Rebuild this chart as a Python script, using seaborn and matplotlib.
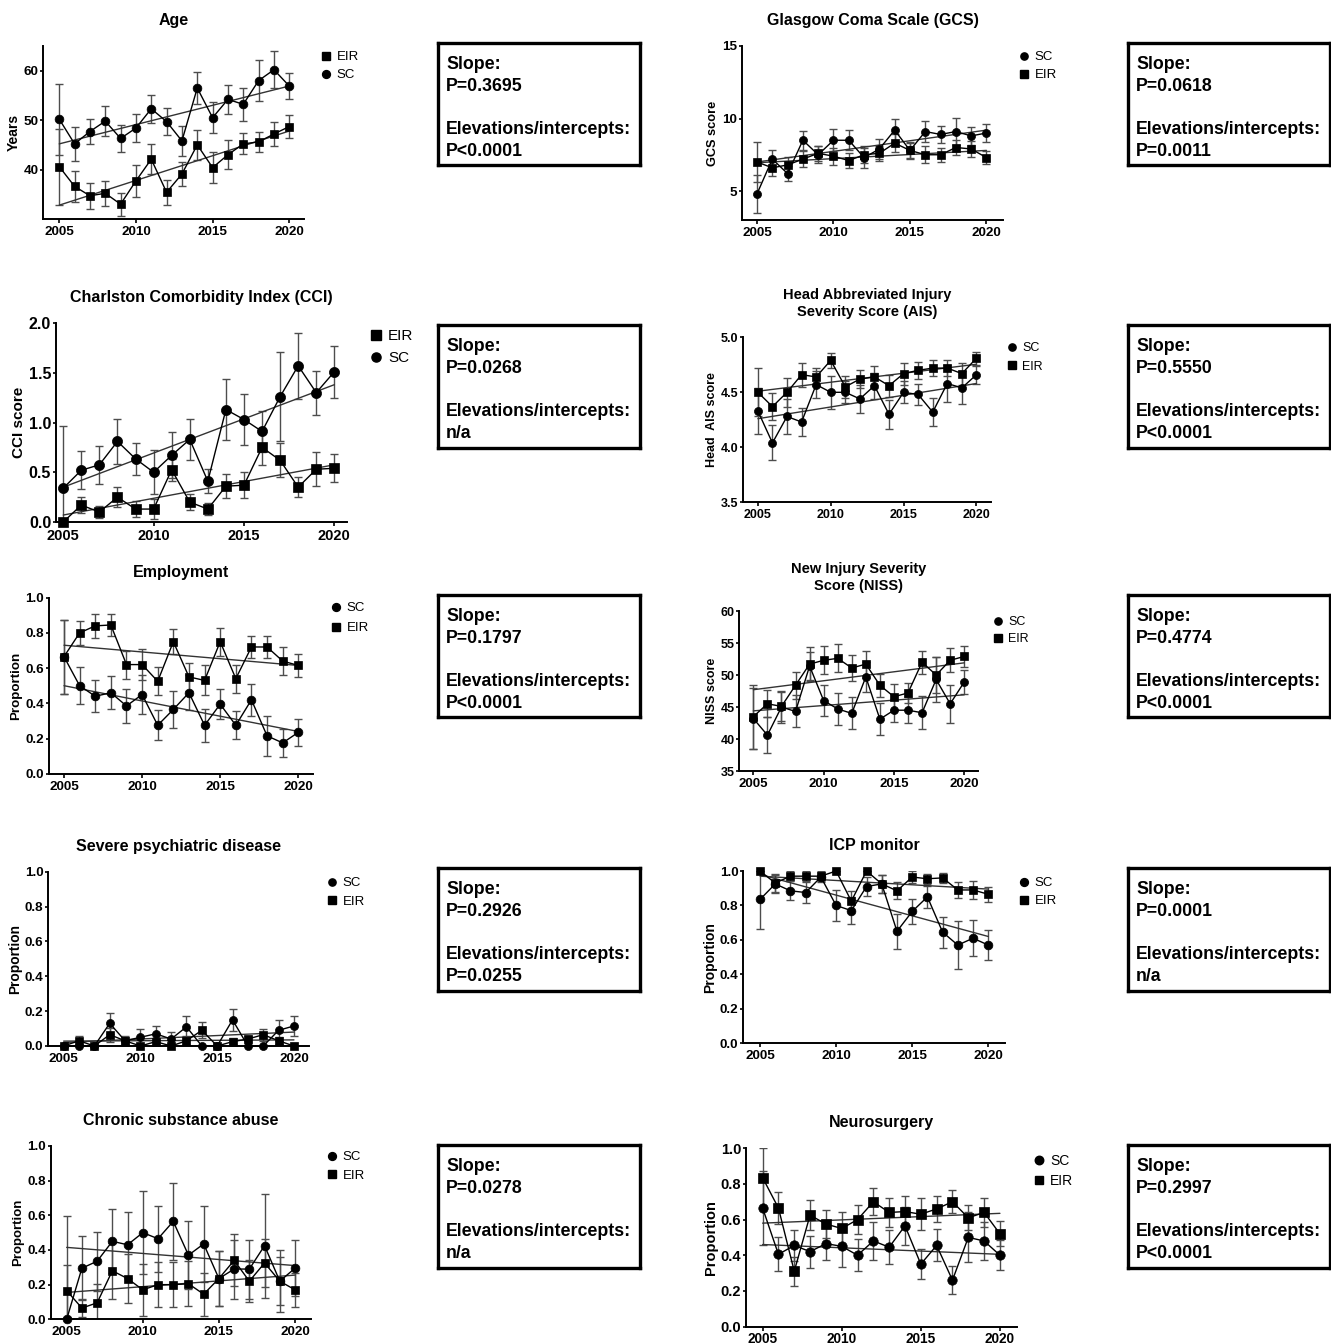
import pandas as pd
import matplotlib
matplotlib.use("Agg")
import matplotlib.pyplot as plt
import seaborn as sns
from matplotlib.lines import Line2D

years = list(range(2005, 2021))
fit_years = [2005, 2020]

# Age (years)
age_sc = [50.2, 45.2, 47.7, 49.8, 46.3, 48.4, 52.3, 49.7, 45.8, 56.5, 50.5, 54.2, 53.2, 58.0, 60.2, 56.9]
age_sc_err = [7.2, 3.5, 2.6, 3.0, 2.7, 2.8, 2.8, 2.7, 3.0, 3.3, 3.1, 2.9, 3.3, 4.1, 3.7, 2.7]
age_eir = [40.6, 36.6, 34.7, 35.2, 33.0, 37.7, 42.1, 35.4, 39.1, 45.0, 40.4, 43.0, 45.2, 45.6, 47.2, 48.7]
age_eir_err = [7.7, 3.2, 2.6, 2.5, 2.3, 3.3, 3.0, 2.5, 2.4, 3.0, 3.1, 2.9, 2.1, 2.0, 2.5, 2.3]
age_sc_fit = [45.2, 56.9]
age_eir_fit = [32.8, 47.8]

# Glasgow Coma Scale
gcs_sc = [4.8, 7.2, 6.2, 8.5, 7.5, 8.5, 8.5, 7.3, 7.9, 9.2, 7.8, 9.1, 8.9, 9.1, 8.8, 9.0]
gcs_sc_err = [1.3, 0.65, 0.5, 0.65, 0.6, 0.75, 0.7, 0.7, 0.7, 0.8, 0.6, 0.7, 0.6, 0.95, 0.6, 0.65]
gcs_eir = [7.0, 6.6, 6.8, 7.2, 7.6, 7.4, 7.1, 7.5, 7.6, 8.3, 7.8, 7.5, 7.5, 8.0, 7.9, 7.3]
gcs_eir_err = [1.4, 0.55, 0.55, 0.55, 0.5, 0.6, 0.5, 0.6, 0.5, 0.6, 0.5, 0.6, 0.5, 0.5, 0.55, 0.45]
gcs_sc_fit = [7.0, 9.2]
gcs_eir_fit = [6.95, 7.8]

# Charlston Comorbidity Index
cci_sc = [0.34, 0.52, 0.575, 0.81, 0.635, 0.50, 0.67, 0.83, 0.41, 1.13, 1.03, 0.91, 1.26, 1.57, 1.30, 1.51]
cci_sc_err = [0.62, 0.19, 0.19, 0.23, 0.16, 0.22, 0.23, 0.21, 0.12, 0.31, 0.26, 0.21, 0.45, 0.33, 0.22, 0.26]
cci_eir = [0.0, 0.17, 0.10, 0.25, 0.13, 0.13, 0.525, 0.20, 0.13, 0.36, 0.37, 0.75, 0.62, 0.35, 0.53, 0.54]
cci_eir_err = [0.0, 0.08, 0.06, 0.10, 0.08, 0.10, 0.11, 0.08, 0.06, 0.12, 0.13, 0.18, 0.17, 0.10, 0.17, 0.14]
cci_sc_fit = [0.35, 1.38]
cci_eir_fit = [0.07, 0.575]

# Head AIS
ais_sc = [4.33, 4.04, 4.28, 4.23, 4.57, 4.50, 4.50, 4.44, 4.56, 4.30, 4.50, 4.48, 4.32, 4.58, 4.54, 4.66]
ais_sc_err = [0.21, 0.16, 0.16, 0.13, 0.12, 0.15, 0.10, 0.13, 0.12, 0.13, 0.10, 0.10, 0.13, 0.17, 0.15, 0.08]
ais_eir = [4.50, 4.37, 4.50, 4.66, 4.64, 4.79, 4.55, 4.62, 4.64, 4.56, 4.67, 4.70, 4.72, 4.72, 4.67, 4.81]
ais_eir_err = [0.22, 0.12, 0.13, 0.11, 0.08, 0.07, 0.10, 0.08, 0.10, 0.10, 0.10, 0.08, 0.07, 0.07, 0.10, 0.06]
ais_sc_fit = [4.26, 4.58]
ais_eir_fit = [4.51, 4.755]

# Employment
emp_sc = [0.665, 0.50, 0.44, 0.46, 0.385, 0.45, 0.275, 0.365, 0.46, 0.275, 0.395, 0.275, 0.42, 0.215, 0.175, 0.235]
emp_sc_err = [0.21, 0.105, 0.09, 0.095, 0.095, 0.11, 0.085, 0.105, 0.10, 0.095, 0.085, 0.08, 0.09, 0.115, 0.08, 0.075]
emp_eir = [0.665, 0.80, 0.84, 0.845, 0.62, 0.62, 0.525, 0.75, 0.55, 0.53, 0.75, 0.54, 0.72, 0.72, 0.64, 0.615]
emp_eir_err = [0.21, 0.07, 0.07, 0.065, 0.08, 0.09, 0.08, 0.07, 0.08, 0.085, 0.08, 0.08, 0.065, 0.065, 0.08, 0.065]
emp_sc_fit = [0.50, 0.24]
emp_eir_fit = [0.73, 0.615]

# NISS
niss_sc = [43.2, 40.6, 45.0, 44.3, 51.4, 46.0, 44.7, 44.0, 49.7, 43.1, 44.5, 44.5, 44.1, 49.3, 45.5, 48.9]
niss_sc_err = [4.8, 2.8, 2.5, 2.5, 2.2, 2.4, 2.5, 2.5, 2.3, 2.5, 1.8, 2.0, 2.6, 3.5, 3.0, 1.9]
niss_eir = [43.5, 45.5, 45.1, 48.4, 51.7, 52.3, 52.6, 51.1, 51.7, 48.4, 46.6, 47.2, 52.0, 50.0, 52.3, 52.9]
niss_eir_err = [5.0, 2.1, 2.3, 2.1, 2.6, 2.2, 2.2, 2.0, 2.1, 1.8, 2.0, 1.6, 1.8, 2.8, 1.9, 1.6]
niss_sc_fit = [44.4, 46.9]
niss_eir_fit = [47.7, 51.9]

# Severe psychiatric disease
psy_sc = [0.0, 0.0, 0.0, 0.13, 0.03, 0.05, 0.07, 0.04, 0.11, 0.0, 0.0, 0.15, 0.0, 0.0, 0.09, 0.115]
psy_sc_err = [0.0, 0.0, 0.0, 0.06, 0.03, 0.05, 0.045, 0.04, 0.06, 0.0, 0.0, 0.065, 0.0, 0.0, 0.06, 0.055]
psy_eir = [0.0, 0.03, 0.0, 0.065, 0.03, 0.0, 0.025, 0.0, 0.03, 0.09, 0.0, 0.025, 0.04, 0.065, 0.03, 0.0]
psy_eir_err = [0.0, 0.03, 0.0, 0.04, 0.02, 0.0, 0.02, 0.0, 0.025, 0.045, 0.0, 0.02, 0.02, 0.035, 0.02, 0.0]
psy_sc_fit = [0.02, 0.08]
psy_eir_fit = [0.028, 0.035]

# ICP monitor
icp_sc = [0.835, 0.925, 0.885, 0.875, 0.965, 0.80, 0.77, 0.91, 0.925, 0.65, 0.765, 0.85, 0.645, 0.57, 0.61, 0.57]
icp_sc_err = [0.17, 0.05, 0.055, 0.06, 0.03, 0.09, 0.08, 0.055, 0.05, 0.10, 0.07, 0.065, 0.09, 0.14, 0.105, 0.085]
icp_eir = [1.0, 0.93, 0.97, 0.97, 0.97, 1.0, 0.825, 1.0, 0.925, 0.885, 0.965, 0.955, 0.96, 0.89, 0.89, 0.865]
icp_eir_err = [0.0, 0.05, 0.03, 0.03, 0.03, 0.0, 0.06, 0.0, 0.05, 0.05, 0.035, 0.03, 0.03, 0.045, 0.05, 0.045]
icp_sc_fit = [0.98, 0.62]
icp_eir_fit = [0.97, 0.895]

# Chronic substance abuse
sub_sc = [0.0, 0.295, 0.335, 0.45, 0.43, 0.50, 0.465, 0.565, 0.37, 0.435, 0.235, 0.29, 0.29, 0.425, 0.22, 0.295]
sub_sc_err = [0.595, 0.185, 0.17, 0.185, 0.19, 0.24, 0.19, 0.22, 0.195, 0.22, 0.16, 0.17, 0.17, 0.30, 0.18, 0.16]
sub_eir = [0.165, 0.065, 0.095, 0.28, 0.235, 0.17, 0.20, 0.20, 0.205, 0.145, 0.235, 0.34, 0.22, 0.325, 0.22, 0.17]
sub_eir_err = [0.15, 0.05, 0.11, 0.16, 0.14, 0.15, 0.13, 0.13, 0.13, 0.125, 0.16, 0.15, 0.12, 0.14, 0.14, 0.10]
sub_sc_fit = [0.415, 0.31]
sub_eir_fit = [0.155, 0.255]

# Neurosurgery
neu_sc = [0.665, 0.405, 0.455, 0.42, 0.465, 0.45, 0.40, 0.48, 0.445, 0.565, 0.35, 0.455, 0.26, 0.50, 0.48, 0.40]
neu_sc_err = [0.21, 0.095, 0.085, 0.09, 0.09, 0.115, 0.09, 0.105, 0.095, 0.105, 0.085, 0.09, 0.08, 0.14, 0.105, 0.085]
neu_eir = [0.835, 0.665, 0.31, 0.625, 0.575, 0.55, 0.60, 0.70, 0.64, 0.645, 0.63, 0.66, 0.70, 0.61, 0.64, 0.52]
neu_eir_err = [0.165, 0.09, 0.08, 0.085, 0.08, 0.095, 0.08, 0.075, 0.08, 0.085, 0.09, 0.075, 0.065, 0.07, 0.08, 0.07]
neu_sc_fit = [0.46, 0.405]
neu_eir_fit = [0.58, 0.635]

# p-values shown in the boxes
slope_p = ["P=0.3695", "P=0.0618", "P=0.0268", "P=0.5550", "P=0.1797",
           "P=0.4774", "P=0.2926", "P=0.0001", "P=0.0278", "P=0.2997"]
elev_p = ["P<0.0001", "P=0.0011", "n/a", "P<0.0001", "P<0.0001",
          "P<0.0001", "P=0.0255", "n/a", "n/a", "P<0.0001"]

sns.set_style("ticks")
plt.rcParams["font.family"] = ["Liberation Sans", "DejaVu Sans"]
plt.rcParams["text.color"] = "black"
plt.rcParams["axes.labelcolor"] = "black"
plt.rcParams["xtick.color"] = "black"
plt.rcParams["ytick.color"] = "black"

W, H = 1331, 1344
fig = plt.figure(figsize=(W / 100, H / 100), dpi=100)


def px_axes(x0, y0, x1, y1):
    return fig.add_axes([x0 / W, 1 - y1 / H, (x1 - x0) / W, (y1 - y0) / H])


prop_ticks = [0, 0.2, 0.4, 0.6, 0.8, 1.0]
panels = [
    dict(title="Age", ylabel="Years", sc=age_sc, sc_err=age_sc_err, eir=age_eir, eir_err=age_eir_err,
         sc_fit=age_sc_fit, eir_fit=age_eir_fit,
         rect=(43.3, 46, 304, 219), xlim=(2003.96, 2020.96), ylim=(30, 65), yticks=[40, 50, 60], fmt="{:.0f}",
         ms=6.3, tick_fs=9.7, ytick_fs=9.7, ylab_fs=10, order=["EIR", "SC"], leg=(326, 55), leg_fs=9.5, leg_ls=0.45,
         box=(438, 43, 640, 165)),
    dict(title="Glasgow Coma Scale (GCS)", ylabel="GCS score", sc=gcs_sc, sc_err=gcs_sc_err, eir=gcs_eir,
         eir_err=gcs_eir_err, sc_fit=gcs_sc_fit, eir_fit=gcs_eir_fit,
         rect=(741.7, 46, 1003.3, 220), xlim=(2004.0, 2021.1), ylim=(3, 15), yticks=[5, 10, 15],
         fmt="{:.0f}", ms=5.8, tick_fs=9.7, ytick_fs=9.7, ylab_fs=9.2, order=["SC", "EIR"], leg=(1024, 55), leg_fs=9.5,
         leg_ls=0.45, box=(1128, 43, 1330, 165)),
    dict(title="Charlston Comorbidity Index (CCI)", ylabel="CCI score", sc=cci_sc, sc_err=cci_sc_err, eir=cci_eir,
         eir_err=cci_eir_err, sc_fit=cci_sc_fit, eir_fit=cci_eir_fit,
         rect=(56, 323, 347, 522), xlim=(2004.6, 2020.7), ylim=(0, 2),
         yticks=[0, 0.5, 1.0, 1.5, 2.0], fmt="{:.1f}", ms=7.3, tick_fs=10.5, ytick_fs=11.5, ylab_fs=11,
         order=["EIR", "SC"], leg=(376, 334), leg_fs=11, leg_ls=0.5, box=(438, 325, 640, 448)),
    dict(title="Head Abbreviated Injury\nSeverity Score (AIS)", ylabel="Head  AIS score", sc=ais_sc,
         sc_err=ais_sc_err, eir=ais_eir, eir_err=ais_eir_err, sc_fit=ais_sc_fit, eir_fit=ais_eir_fit,
         rect=(743.3, 337.3, 991, 502.3),
         xlim=(2004.0, 2021.0), ylim=(3.5, 5.0), yticks=[3.5, 4.0, 4.5, 5.0], fmt="{:.1f}", ms=5.8, tick_fs=9,
         ytick_fs=9, ylab_fs=9, order=["SC", "EIR"], leg=(1012, 346), leg_fs=9, leg_ls=0.5,
         box=(1128, 325, 1330, 448), title_fs=10.5),
    dict(title="Employment", ylabel="Proportion", sc=emp_sc, sc_err=emp_sc_err, eir=emp_eir, eir_err=emp_eir_err,
         sc_fit=emp_sc_fit, eir_fit=emp_eir_fit,
         rect=(49, 597.7, 313.3, 773.7), xlim=(2004.04, 2020.96), ylim=(0, 1), yticks=prop_ticks, fmt="{:.1f}",
         ms=6.3, tick_fs=9.7, ytick_fs=9.7, ylab_fs=9.6, order=["SC", "EIR"], leg=(336, 606), leg_fs=9.5,
         leg_ls=0.6, box=(438, 595, 640, 717)),
    dict(title="New Injury Severity\nScore (NISS)", ylabel="NISS score", sc=niss_sc, sc_err=niss_sc_err,
         eir=niss_eir, eir_err=niss_eir_err, sc_fit=niss_sc_fit, eir_fit=niss_eir_fit,
         rect=(739.3, 611, 978.3, 771), xlim=(2004.0, 2021.0), ylim=(35, 60),
         yticks=[35, 40, 45, 50, 55, 60], fmt="{:.0f}", ms=5.8, tick_fs=9.5, ytick_fs=9, ylab_fs=9,
         order=["SC", "EIR"], leg=(998, 620), leg_fs=9, leg_ls=0.4, box=(1128, 595, 1330, 717), title_fs=10.5),
    dict(title="Severe psychiatric disease", ylabel="Proportion", sc=psy_sc, sc_err=psy_sc_err, eir=psy_eir,
         eir_err=psy_eir_err, sc_fit=psy_sc_fit, eir_fit=psy_eir_fit,
         rect=(48.3, 871.7, 309.3, 1046), xlim=(2004.0, 2021.0), ylim=(0, 1),
         yticks=prop_ticks, fmt="{:.1f}", ms=5.8, tick_fs=9.7, ytick_fs=9.7, ylab_fs=9.9, order=["SC", "EIR"],
         leg=(332, 881), leg_fs=9.5, leg_ls=0.5, box=(438, 868, 640, 991)),
    dict(title="ICP monitor", ylabel="Proportion", sc=icp_sc, sc_err=icp_sc_err, eir=icp_eir, eir_err=icp_eir_err,
         sc_fit=icp_sc_fit, eir_fit=icp_eir_fit,
         rect=(743.3, 871, 1005, 1043.3), xlim=(2003.9, 2021.1), ylim=(0, 1), yticks=prop_ticks, fmt="{:.1f}",
         ms=6.3, tick_fs=9.7, ytick_fs=9.7, ylab_fs=10, order=["SC", "EIR"], leg=(1024, 881), leg_fs=9.5,
         leg_ls=0.45, box=(1128, 868, 1330, 991)),
    dict(title="Chronic substance abuse", ylabel="Proportion", sc=sub_sc, sc_err=sub_sc_err, eir=sub_eir,
         eir_err=sub_eir_err, sc_fit=sub_sc_fit, eir_fit=sub_eir_fit,
         rect=(51, 1146, 311, 1319.3), xlim=(2003.97, 2021.05), ylim=(0, 1), yticks=prop_ticks,
         fmt="{:.1f}", ms=6.3, tick_fs=9.7, ytick_fs=9.7, ylab_fs=9.5, order=["SC", "EIR"], leg=(332, 1155),
         leg_fs=9.5, leg_ls=0.5, box=(438, 1145, 640, 1268)),
    dict(title="Neurosurgery", ylabel="Proportion", sc=neu_sc, sc_err=neu_sc_err, eir=neu_eir, eir_err=neu_eir_err,
         sc_fit=neu_sc_fit, eir_fit=neu_eir_fit,
         rect=(746, 1148.3, 1016.7, 1326.5), xlim=(2003.95, 2021.06), ylim=(0, 1), yticks=prop_ticks, fmt="{:.1f}",
         ms=6.8, tick_fs=9.8, ytick_fs=10.5, ylab_fs=10.5, order=["SC", "EIR"], leg=(1039, 1158), leg_fs=10,
         leg_ls=0.45, box=(1128, 1145, 1330, 1268), xpad=1.0),
]

markers = {"SC": "o", "EIR": "s"}

for i, p in enumerate(panels):
    ax = px_axes(*p["rect"])
    df = pd.DataFrame({
        "year": years * 2,
        "value": p["sc"] + p["eir"],
        "err": p["sc_err"] + p["eir_err"],
        "group": ["SC"] * len(years) + ["EIR"] * len(years),
    })
    fits = pd.DataFrame({
        "year": fit_years * 2,
        "value": p["sc_fit"] + p["eir_fit"],
        "group": ["SC", "SC", "EIR", "EIR"],
    })
    for grp in ["SC", "EIR"]:
        sub = df[df["group"] == grp]
        ax.errorbar(sub["year"], sub["value"], yerr=sub["err"], fmt="none", ecolor="#4d4d4d",
                    elinewidth=1.0, capsize=3, capthick=1.0, zorder=1)
    # linear trend lines
    sns.lineplot(data=fits, x="year", y="value", units="group", estimator=None, color="#333333",
                 linewidth=1.0, legend=False, ax=ax, zorder=2)
    sns.lineplot(data=df, x="year", y="value", style="group", markers=markers, dashes=False,
                 color="black", linewidth=1.0, markersize=p["ms"], markeredgecolor="black",
                 markeredgewidth=0.5, legend=False, ax=ax, zorder=3, clip_on=False)

    ax.set_xlim(*p["xlim"])
    ax.set_ylim(*p["ylim"])
    ax.set_xticks([2005, 2010, 2015, 2020], ["2005", "2010", "2015", "2020"],
                  fontsize=p["tick_fs"], fontweight="bold")
    ax.set_yticks(p["yticks"], [p["fmt"].format(v) for v in p["yticks"]],
                  fontsize=p["ytick_fs"], fontweight="bold")
    ax.set_xlabel("")
    ax.set_ylabel(p["ylabel"], fontsize=p["ylab_fs"], fontweight="bold", labelpad=2)
    ax.set_title(p["title"], fontsize=p.get("title_fs", 11.5), fontweight="bold", pad=15, linespacing=1.3)
    sns.despine(ax=ax)
    for side in ["left", "bottom"]:
        ax.spines[side].set_linewidth(1.4)
        ax.spines[side].set_color("black")
    ax.tick_params(axis="x", direction="out", length=3, width=1.2, pad=p.get("xpad", 2))
    ax.tick_params(axis="y", direction="out", length=2.5, width=1.2, pad=1)

    # legend: markers only
    fs_px = p["leg_fs"] * 100 / 72
    handles = [Line2D([], [], marker=markers[g], color="black", linestyle="none",
                      markersize=p["ms"] * 0.9) for g in p["order"]]
    mx, my = p["leg"]
    ax.legend(handles, p["order"], loc="upper left", frameon=False, fontsize=p["leg_fs"],
              handlelength=0.8, handletextpad=0.4, labelspacing=p["leg_ls"], borderpad=0,
              borderaxespad=0, bbox_to_anchor=((mx - 0.4 * fs_px) / W, 1 - (my - 0.3 * fs_px) / H),
              bbox_transform=fig.transFigure)

    # p-value box
    bx = px_axes(*p["box"])
    bx.set_xticks([])
    bx.set_yticks([])
    for s in bx.spines.values():
        s.set_visible(True)
        s.set_linewidth(2.4)
        s.set_color("black")
    bh = p["box"][3] - p["box"][1]
    bw = p["box"][2] - p["box"][0]
    bx.text(8 / bw, 1 - 13 / bh, "Slope:\n" + slope_p[i] + "\n\nElevations/intercepts:\n" + elev_p[i],
            transform=bx.transAxes, ha="left", va="top", fontsize=12.8, fontweight="bold", linespacing=1.36)

fig.savefig("out.png", dpi=100, facecolor="white")
